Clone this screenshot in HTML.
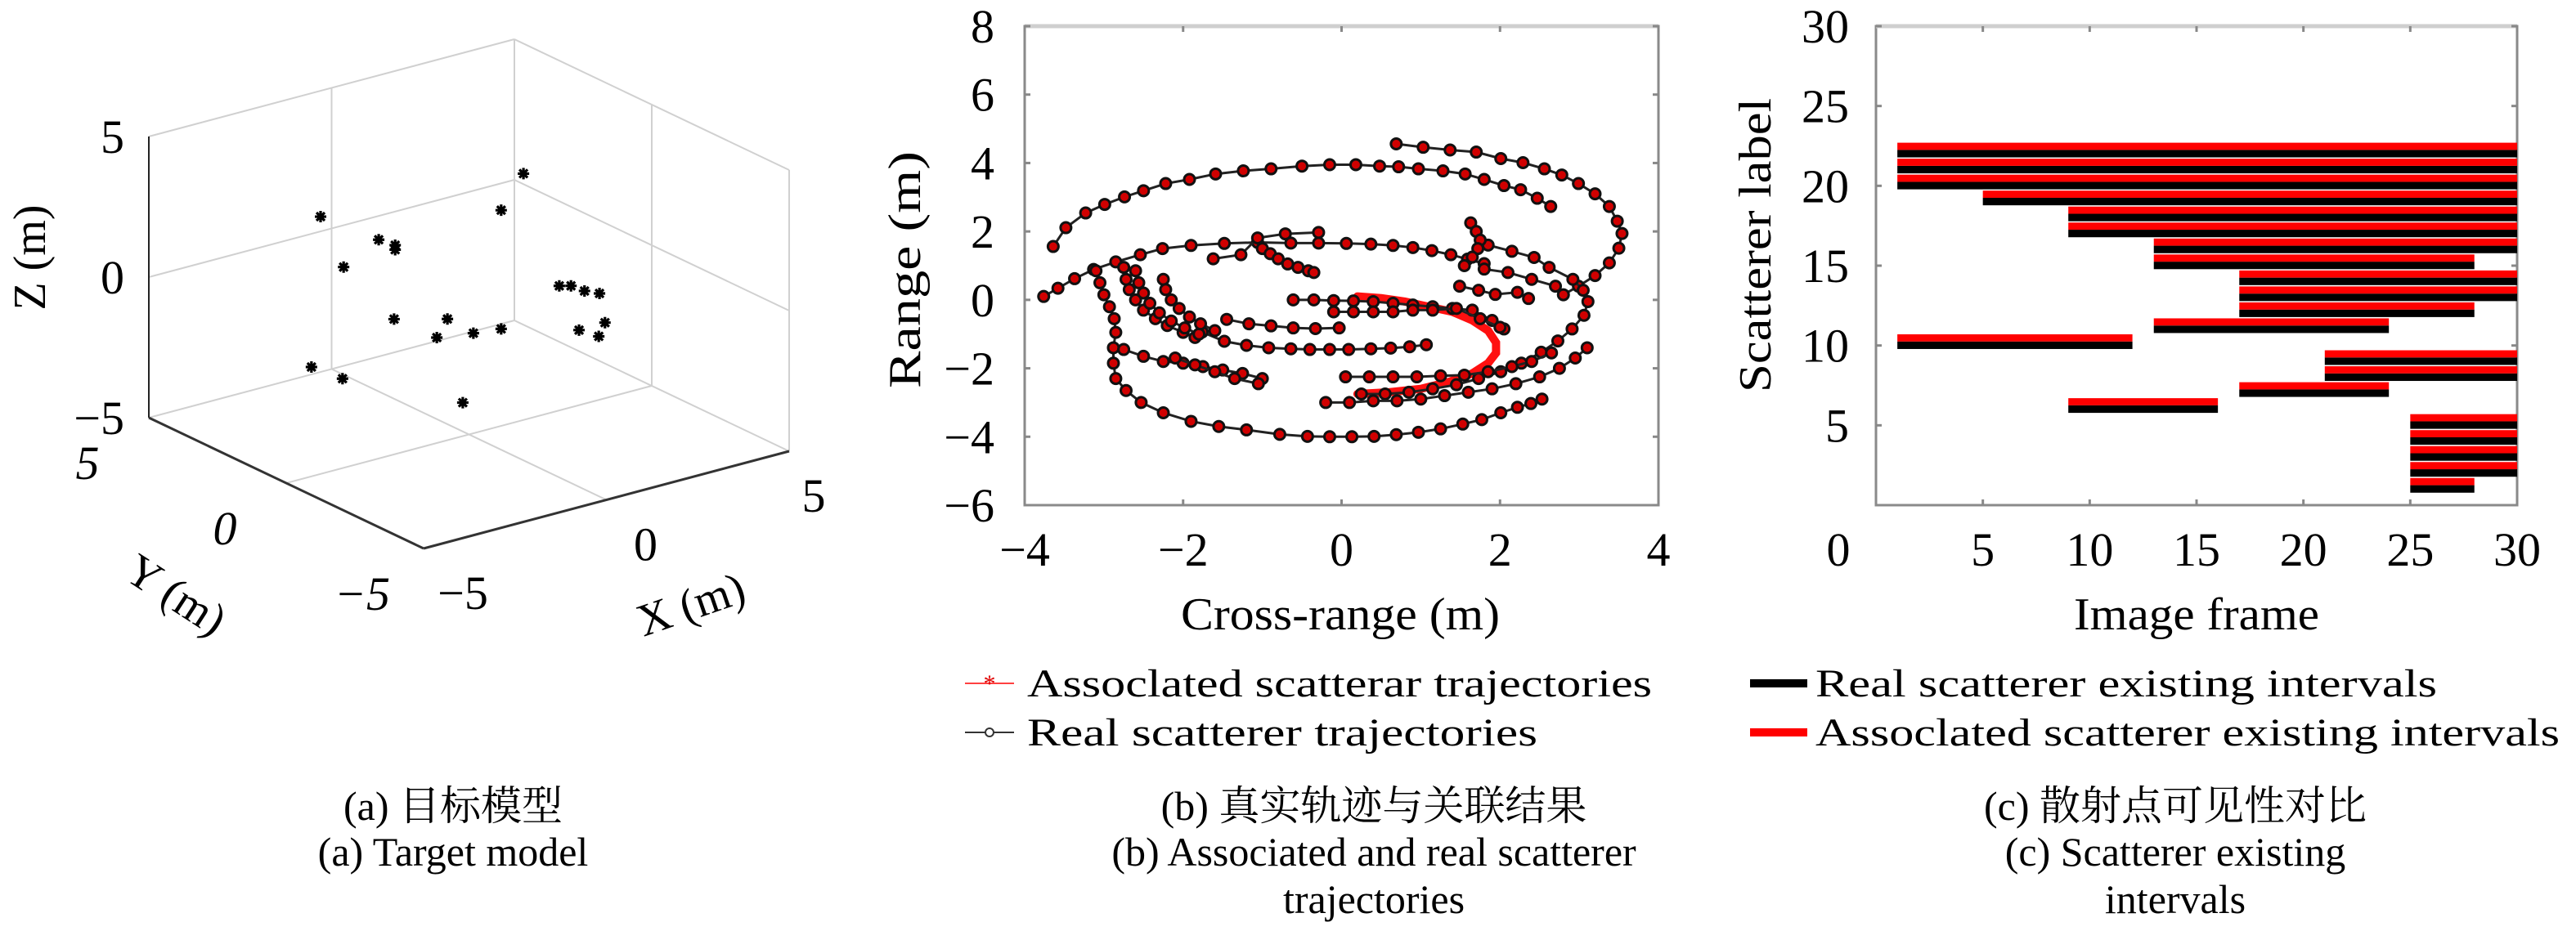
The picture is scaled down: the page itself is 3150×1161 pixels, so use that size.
<!DOCTYPE html>
<html><head><meta charset="utf-8"><style>
html,body{margin:0;padding:0;background:#fff;}
svg{display:block;font-family:"Liberation Serif","Noto Serif CJK SC","Noto Sans CJK SC",serif;}
</style></head><body>
<svg id="fig" width="3150" height="1161" viewBox="0 0 3150 1161" xmlns="http://www.w3.org/2000/svg">
<g id="pa"></g>
<g id="pb"></g>
<g id="pc"></g>
<g font-size="50" text-anchor="middle" fill="#000">
<text x="554" y="1003">(a) 目标模型</text>
<text x="554" y="1059">(a) Target model</text>
<text x="1680" y="1003">(b) 真实轨迹与关联结果</text>
<text x="1680" y="1059">(b) Associated and real scatterer</text>
<text x="1680" y="1117">trajectories</text>
<text x="2660" y="1003">(c) 散射点可见性对比</text>
<text x="2660" y="1059">(c) Scatterer existing</text>
<text x="2660" y="1117">intervals</text>
</g>
</svg>
<script>
const NS="http://www.w3.org/2000/svg";
// ---------- Panel A data ----------
const ptsX=[1.49,0.88,-4.06,-2.47,-2.02,-2.02,-3.43,2.47,2.79,3.16,3.57,3.72,3.01,3.55,-2.05,-0.59,-0.88,0.12,0.88,-4.31,-3.46,-0.17];
const ptsY=[0,0,0,0,0,0,0,0,0,0,0,0,0,0,0,0,0,0,0,0,0,0];
const ptsZ=[3.76,2.67,4.15,2.78,2.43,2.27,2.14,-0.57,-0.68,-0.99,-1.22,-2.31,-2.33,-2.74,-0.19,-0.69,-1.25,-1.44,-1.55,-1.11,-1.82,-3.81];
const axTicks3=[-5,0,5];
// ---------- Panel B data ----------
const traj1=[[-3.64,1.56],[-3.48,2.11],[-3.23,2.54],[-2.99,2.79],[-2.74,3.01],[-2.50,3.19],[-2.22,3.40],[-1.92,3.52],[-1.59,3.68],[-1.24,3.77],[-0.89,3.83],[-0.50,3.91],[-0.15,3.95],[0.18,3.95],[0.48,3.91],[0.72,3.89],[0.97,3.83],[1.28,3.77],[1.56,3.68],[1.80,3.52],[2.05,3.34],[2.26,3.22],[2.47,2.97],[2.64,2.73]];
const traj2=[[0.69,4.56],[1.03,4.46],[1.37,4.38],[1.70,4.32],[2.01,4.13],[2.29,4.01],[2.56,3.83],[2.78,3.65],[2.99,3.40],[3.20,3.10],[3.38,2.73],[3.48,2.30],[3.54,1.94],[3.50,1.51],[3.38,1.08],[3.20,0.71],[2.99,0.40],[2.80,0.15]];
const traj3=[[-3.76,0.10],[-3.58,0.34],[-3.37,0.62],[-3.13,0.89],[-2.85,1.11],[-2.54,1.32],[-2.26,1.50],[-1.90,1.59],[-1.48,1.65],[-1.06,1.68],[-0.64,1.66],[-0.29,1.66],[0.06,1.65],[0.37,1.63],[0.65,1.59],[0.90,1.53],[1.14,1.44],[1.38,1.32],[1.59,1.19],[1.80,1.06]];
const traj4=[[-3.10,0.85],[-3.05,0.50],[-3.00,0.15],[-2.93,-0.20],[-2.87,-0.55],[-2.85,-0.95],[-2.88,-1.40],[-2.88,-1.85],[-2.85,-2.30],[-2.72,-2.65],[-2.53,-3.00],[-2.25,-3.30],[-1.90,-3.55],[-1.55,-3.70],[-1.20,-3.80],[-0.78,-3.93],[-0.43,-3.99],[-0.15,-4.00],[0.13,-4.00],[0.41,-3.99],[0.69,-3.94],[0.97,-3.87],[1.25,-3.77],[1.53,-3.63],[1.77,-3.50],[2.01,-3.30],[2.22,-3.14],[2.39,-3.03],[2.53,-2.90]];
const traj5=[[1.85,1.60],[2.15,1.42],[2.43,1.24],[2.62,0.95],[2.92,0.60],[3.05,0.28],[3.11,-0.05],[3.06,-0.45],[2.91,-0.85],[2.73,-1.20],[2.52,-1.53],[2.27,-1.85],[2.01,-2.10],[1.73,-2.30],[1.45,-2.48],[1.15,-2.60],[0.85,-2.70],[0.55,-2.75],[0.25,-2.75]];
const traj6=[[-0.61,0.0],[-0.35,0.0],[-0.10,-0.02],[0.15,-0.03],[0.40,-0.05],[0.65,-0.10],[0.90,-0.15],[1.15,-0.20],[1.40,-0.25],[1.65,-0.30],[1.90,-0.60],[2.05,-0.85]];
const traj7=[[-0.10,-0.35],[0.15,-0.35],[0.40,-0.35],[0.65,-0.35],[0.90,-0.30],[1.15,-0.30],[1.45,-0.25],[1.75,-0.55],[2.00,-0.80]];
const traj8=[[-1.45,-0.57],[-1.17,-0.70],[-0.89,-0.76],[-0.61,-0.82],[-0.33,-0.84],[-0.03,-0.82]];
const traj9=[[-1.76,-0.94],[-1.48,-1.21],[-1.20,-1.33],[-0.92,-1.40],[-0.64,-1.43],[-0.40,-1.45],[-0.15,-1.45],[0.09,-1.45],[0.37,-1.43],[0.62,-1.41],[0.86,-1.37],[1.07,-1.31]];
const traj10=[[-2.75,-1.45],[-2.50,-1.65],[-2.25,-1.80],[-2.00,-1.85],[-1.75,-1.95],[-1.50,-2.05],[-1.25,-2.15],[-1.00,-2.30]];
const traj11=[[-2.10,-1.70],[-1.85,-1.90],[-1.60,-2.10],[-1.35,-2.30],[-1.05,-2.45]];
const traj12=[[-2.75,0.95],[-2.72,0.60],[-2.68,0.30],[-2.60,0.00],[-2.50,-0.30],[-2.35,-0.55],[-2.20,-0.75],[-2.00,-0.95],[-1.85,-1.10]];
const traj13=[[-2.60,0.85],[-2.56,0.50],[-2.50,0.20],[-2.42,-0.10],[-2.30,-0.38],[-2.15,-0.62],[-1.98,-0.82],[-1.80,-1.00]];
const traj14=[[-2.25,0.60],[-2.22,0.30],[-2.15,0.00],[-2.05,-0.25],[-1.92,-0.50],[-1.78,-0.70],[-1.60,-0.90]];
const traj15=[[-1.00,1.50],[-0.90,1.35],[-0.80,1.20],[-0.68,1.05],[-0.55,0.95],[-0.42,0.85],[-0.35,0.80]];
const traj16=[[-1.62,1.20],[-1.27,1.32],[-1.06,1.81],[-0.71,1.93],[-0.29,1.97]];
const traj17=[[1.63,2.25],[1.70,2.00],[1.75,1.75],[1.72,1.50],[1.65,1.25],[1.55,1.00]];
const traj18=[[1.49,0.40],[1.73,0.28],[1.94,0.16],[2.22,0.22],[2.36,0.04]];
const traj19=[[1.80,0.90],[2.10,0.80],[2.40,0.60],[2.70,0.40]];
const traj20=[[0.05,-2.25],[0.35,-2.25],[0.65,-2.25],[0.95,-2.25],[1.25,-2.22],[1.55,-2.20],[1.85,-2.10],[2.15,-1.95],[2.40,-1.80],[2.65,-1.55]];
const traj21=[[-0.20,-3.00],[0.10,-3.00],[0.40,-2.95],[0.70,-2.95],[1.00,-2.90],[1.30,-2.80],[1.60,-2.70],[1.90,-2.60],[2.20,-2.45],[2.50,-2.25],[2.75,-2.00],[2.95,-1.70],[3.10,-1.40]];
const assocOnly=[[0.20,0.10],[0.50,0.05],[0.80,-0.05],[1.10,-0.20],[1.40,-0.35],[1.65,-0.60],[1.85,-0.90],[1.95,-1.25],[1.95,-1.55],[1.85,-1.85],[1.65,-2.15],[1.35,-2.40],[1.00,-2.60],[0.60,-2.70],[0.20,-2.75]];
const trajList=[traj1,traj2,traj3,traj4,traj5,traj6,traj7,traj8,traj9,traj10,traj11,traj12,traj13,traj14,traj15,traj16,traj17,traj18,traj19,traj20,traj21];
const bXTicks=[-4,-2,0,2,4];
const bYTicks=[-6,-4,-2,0,2,4,6,8];
// ---------- Panel C data ----------
const labels=[1,2,3,4,5,6,7,8,9,10,11,12,13,14,15,16,17,18,19,20,21,22];
const startFrame=[25,25,25,25,25,9,17,21,21,1,13,17,17,17,13,13,9,9,5,1,1,1];
const endFrame=[28,30,30,30,30,16,24,30,30,12,24,28,30,30,28,30,30,30,30,30,30,30];
const cXTicks=[5,10,15,20,25,30];
const cYTicks=[5,10,15,20,25,30];

function mk(tag,attrs,parent,txt){const e=document.createElementNS(NS,tag);for(const k in attrs)e.setAttribute(k,attrs[k]);if(txt!==undefined)e.textContent=txt;parent.appendChild(e);return e;}
const neg=t=>t<0?'−'+Math.abs(t):String(t);

// ================= Panel A =================
const pa=document.getElementById('pa');
const O={x:518,y:671},ex={x:44.7,y:-11.9},ey={x:-33.6,y:-16.0},ez={x:0,y:-34.4};
function P(x,y,z){const a=x+5,b=y+5,c=z+5;return {x:O.x+a*ex.x+b*ey.x+c*ez.x,y:O.y+a*ex.y+b*ey.y+c*ez.y};}
function line3(p,q,st,w,name){const A=P(...p),B=P(...q);const l=mk('line',{x1:A.x,y1:A.y,x2:B.x,y2:B.y,stroke:st,'stroke-width':w},pa);

}
const g='#d0d0d0';
line3([5,5,-5],[5,5,5],g,2,'grid-back-edge');
line3([5,-5,-5],[5,-5,5],g,2,'grid-right-edge');
line3([-5,5,5],[5,5,5],g,2,'grid-top-left');
line3([5,5,5],[5,-5,5],g,2,'grid-top-right');
line3([-5,5,-5],[5,5,-5],g,2,'grid-floor-left');
line3([5,5,-5],[5,-5,-5],g,2,'grid-floor-right');
line3([0,5,-5],[0,5,5],g,2,'grid-left-wall-mid');
line3([5,0,-5],[5,0,5],g,2,'grid-right-wall-mid');
line3([-5,5,0],[5,5,0],g,2,'grid-left-wall-z0');
line3([5,5,0],[5,-5,0],g,2,'grid-right-wall-z0');
line3([0,-5,-5],[0,5,-5],g,2,'grid-floor-x0');
line3([-5,0,-5],[5,0,-5],g,2,'grid-floor-y0');
line3([-5,5,-5],[-5,5,5],'#222',2,'z-axis-line');
line3([-5,5,-5],[-5,-5,-5],'#333',3,'y-axis-line');
line3([-5,-5,-5],[5,-5,-5],'#333',3,'x-axis-line');
for(const t of axTicks3){
 const zt=P(-5,5,t);
 const tz=mk('text',{x:zt.x-30,y:zt.y+20,'font-size':58,'text-anchor':'end'},pa,neg(t));
 
 
 const yt=P(-5,t,-5);
 const ty=mk('text',{x:yt.x-75,y:yt.y+75,'font-size':58,'text-anchor':'middle','font-style':'italic'},pa,neg(t));
 
 
 const xt=P(t,-5,-5);
 const tx=mk('text',{x:xt.x+48-(t>0?18:0),y:xt.y+74,'font-size':58,'text-anchor':'middle'},pa,neg(t));
 
 
}
let tt=mk('text',{x:0,y:18,'font-size':56,'text-anchor':'middle',transform:'translate(37,315) rotate(-90)'},pa,'Z (m)');


tt=mk('text',{x:0,y:18,'font-size':56,'text-anchor':'middle',transform:'translate(215,728) rotate(33)'},pa,'Y (m)');


tt=mk('text',{x:0,y:18,'font-size':56,'text-anchor':'middle',transform:'translate(845,740) rotate(-19)'},pa,'X (m)');


for(let i=0;i<ptsX.length;i++){
 const p=P(ptsX[i],ptsY[i],ptsZ[i]);const r=7;
 const s=mk('path',{d:`M${p.x-r},${p.y}H${p.x+r}M${p.x},${p.y-r}V${p.y+r}M${p.x-5},${p.y-5}L${p.x+5},${p.y+5}M${p.x-5},${p.y+5}L${p.x+5},${p.y-5}`,stroke:'#000','stroke-width':3.2},pa);
 
 
}

// ================= Panel B =================
const pb=document.getElementById('pb');
const bx0=1253,bx1=2028,by0=32,by1=618;
const bxs=v=>bx0+(v+4)/8*(bx1-bx0);
const bys=v=>by1-(v+6)/14*(by1-by0);
let fr=mk('rect',{x:bx0,y:by0,width:bx1-bx0,height:by1-by0,fill:'none',stroke:'#8a8a8a','stroke-width':3},pb);


let tl=mk('line',{x1:bx0,y1:by0,x2:bx1,y2:by0,stroke:'#cfcfcf','stroke-width':5},pb);


for(const t of bXTicks){const x=bxs(t);
 mk('line',{x1:x,y1:by1,x2:x,y2:by1-7,stroke:'#888','stroke-width':3},pb);
 mk('line',{x1:x,y1:by0,x2:x,y2:by0+7,stroke:'#888','stroke-width':3},pb);
 const e=mk('text',{x:x,y:692,'font-size':58,'text-anchor':'middle'},pb,neg(t));
 
 }
for(const t of bYTicks){const y=bys(t);
 mk('line',{x1:bx0,y1:y,x2:bx0+7,y2:y,stroke:'#888','stroke-width':3},pb);
 mk('line',{x1:bx1,y1:y,x2:bx1-7,y2:y,stroke:'#888','stroke-width':3},pb);
 const e=mk('text',{x:1216,y:y+20,'font-size':58,'text-anchor':'end'},pb,neg(t));
 
 }
tt=mk('text',{x:1639,y:770,'font-size':56,'text-anchor':'middle',textLength:390,lengthAdjust:'spacingAndGlyphs'},pb,'Cross-range (m)');


tt=mk('text',{x:0,y:0,'font-size':56,'text-anchor':'middle',transform:'translate(1125,330) rotate(-90)',textLength:290,lengthAdjust:'spacingAndGlyphs'},pb,'Range (m)');


let ap=mk('polyline',{points:assocOnly.map(p=>bxs(p[0])+','+bys(p[1])).join(' '),fill:'none',stroke:'#ff1010','stroke-width':10,'stroke-linecap':'round'},pb);


for(const tr of trajList){
 const pl=mk('polyline',{points:tr.map(p=>bxs(p[0])+','+bys(p[1])).join(' '),fill:'none',stroke:'#222','stroke-width':3},pb);
 
 
 for(const p of tr){
  const c=mk('circle',{cx:bxs(p[0]),cy:bys(p[1]),r:6.5,fill:'#d00000',stroke:'#111','stroke-width':3},pb);
  
  
 }
}
let lg=mk('g',{},pb);


mk('line',{x1:1180,y1:836,x2:1240,y2:836,stroke:'#ff4040','stroke-width':2},lg);
mk('text',{x:1210,y:846,'font-size':30,'text-anchor':'middle',fill:'#e00000'},lg,'*');
let le=mk('text',{x:1256,y:852,'font-size':48,textLength:764,lengthAdjust:'spacingAndGlyphs'},lg,'Assoclated scatterar trajectories');


mk('line',{x1:1180,y1:896,x2:1240,y2:896,stroke:'#333','stroke-width':2},lg);
mk('circle',{cx:1210,cy:896,r:5,fill:'#fff',stroke:'#333','stroke-width':2},lg);
le=mk('text',{x:1256,y:912,'font-size':48,textLength:624,lengthAdjust:'spacingAndGlyphs'},lg,'Real scatterer trajectories');



// ================= Panel C =================
const pc=document.getElementById('pc');
const cx0=2294,cx1=3078,cy0=32,cy1=618;
const cxs=v=>cx0+v/30*(cx1-cx0);
const cys=v=>cy1-v/30*(cy1-cy0);
fr=mk('rect',{x:cx0,y:cy0,width:cx1-cx0,height:cy1-cy0,fill:'none',stroke:'#8a8a8a','stroke-width':3},pc);


tl=mk('line',{x1:cx0,y1:cy0,x2:cx1,y2:cy0,stroke:'#cfcfcf','stroke-width':5},pc);


for(const t of cXTicks){const x=cxs(t);
 mk('line',{x1:x,y1:cy1,x2:x,y2:cy1-7,stroke:'#888','stroke-width':3},pc);
 mk('line',{x1:x,y1:cy0,x2:x,y2:cy0+7,stroke:'#888','stroke-width':3},pc);
 const e=mk('text',{x:x,y:692,'font-size':58,'text-anchor':'middle'},pc,String(t));
 
 }
let z0=mk('text',{x:2248,y:692,'font-size':58,'text-anchor':'middle'},pc,'0');


for(const t of cYTicks){const y=cys(t);
 mk('line',{x1:cx0,y1:y,x2:cx0+7,y2:y,stroke:'#888','stroke-width':3},pc);
 mk('line',{x1:cx1,y1:y,x2:cx1-7,y2:y,stroke:'#888','stroke-width':3},pc);
 const e=mk('text',{x:2261,y:y+20,'font-size':58,'text-anchor':'end'},pc,String(t));
 
 }
tt=mk('text',{x:2686,y:770,'font-size':56,'text-anchor':'middle',textLength:300,lengthAdjust:'spacingAndGlyphs'},pc,'Image frame');


tt=mk('text',{x:0,y:0,'font-size':56,'text-anchor':'middle',transform:'translate(2165,300) rotate(-90)',textLength:360,lengthAdjust:'spacingAndGlyphs'},pc,'Scatterer label');


for(let i=0;i<labels.length;i++){
 const L=labels[i],x=cxs(startFrame[i]),w=cxs(endFrame[i])-x;
 const bk=mk('rect',{x:x,y:cys(L+0.25),width:w,height:cys(L-0.22)-cys(L+0.25),fill:'#000'},pc);
 
 
 const rd=mk('rect',{x:x,y:cys(L+0.7),width:w,height:cys(L+0.25)-cys(L+0.7),fill:'#ff0000'},pc);
 
 
}
lg=mk('g',{},pc);


mk('rect',{x:2140,y:831,width:70,height:10,fill:'#000'},lg);
le=mk('text',{x:2220,y:852,'font-size':48,textLength:760,lengthAdjust:'spacingAndGlyphs'},lg,'Real scatterer existing intervals');


mk('rect',{x:2140,y:891,width:70,height:10,fill:'#ff0000'},lg);
le=mk('text',{x:2220,y:912,'font-size':48,textLength:910,lengthAdjust:'spacingAndGlyphs'},lg,'Assoclated scatterer existing intervals');


</script>
</body></html>
